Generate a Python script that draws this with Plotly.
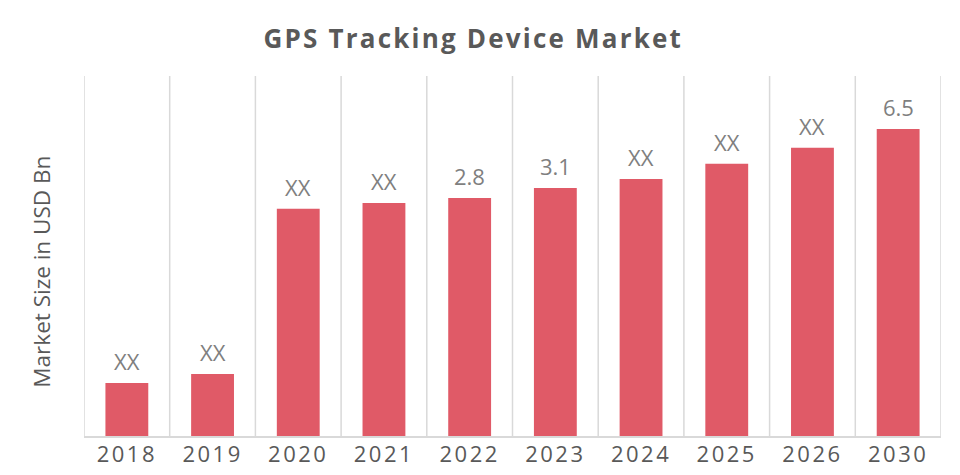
import plotly.graph_objects as go

years = ["2018","2019","2020","2021","2022","2023","2024","2025","2026","2030"]
values = [1.12,1.31,4.81,4.93,5.04,5.25,5.44,5.76,6.10,6.5]
labels = ["XX","XX","XX","XX","2.8","3.1","XX","XX","XX","6.5"]
title = "GPS Tracking Device Market"
ytitle = "Market Size in USD Bn"
bar_color = "#E05A67"
text_color = "#7f7f7f"

fig = go.Figure(go.Bar(x=years, y=values, cliponaxis=False,
    marker=dict(color=bar_color, line=dict(width=0)), width=0.5))
fig.update_layout(
    width=952, height=467, paper_bgcolor="white", plot_bgcolor="white", showlegend=False,
    margin=dict(l=76, r=19, t=68, b=39, autoexpand=False),
    title=dict(text=f"<b>{title}</b>", x=0.4887, xanchor="center", y=0.934, yanchor="middle",
               font=dict(family="Open Sans", size=26, color="#595959")),
    annotations=[dict(text=ytitle, textangle=-90, xref="paper", yref="paper", x=-0.05, y=0.457,
                      xanchor="center", yanchor="middle", showarrow=False,
                      font=dict(family="Open Sans", size=22.5, color="#595959"))],
)
for i, (v, lab) in enumerate(zip(values, labels)):
    fig.add_annotation(x=i, y=v, text=lab, showarrow=False, yanchor="bottom", yshift=5,
                       font=dict(family="Open Sans", size=22, color=text_color))
fig.update_xaxes(type="category", range=[-0.5, len(years)-0.5], showgrid=False, ticks="", showline=True,
    linecolor="#d9d9d9", linewidth=2, ticklabelstandoff=-2,
    tickfont=dict(family="Open Sans", size=22, color="#595959"))
fig.update_yaxes(range=[0,7.62], showticklabels=False, showgrid=False, zeroline=False, ticks="")
for i in range(len(years)+1):
    fig.add_shape(type="line", xref="x", yref="paper", x0=i-0.5, x1=i-0.5, y0=0, y1=1,
                  line=dict(color="#d9d9d9", width=1.5), layer="below")
css = """var s=document.createElement('style');
s.textContent='.xtick text{letter-spacing:2.5px}.gtitle{letter-spacing:2.2px}';
document.head.appendChild(s);"""
fig.write_html("out.html", post_script=css)
